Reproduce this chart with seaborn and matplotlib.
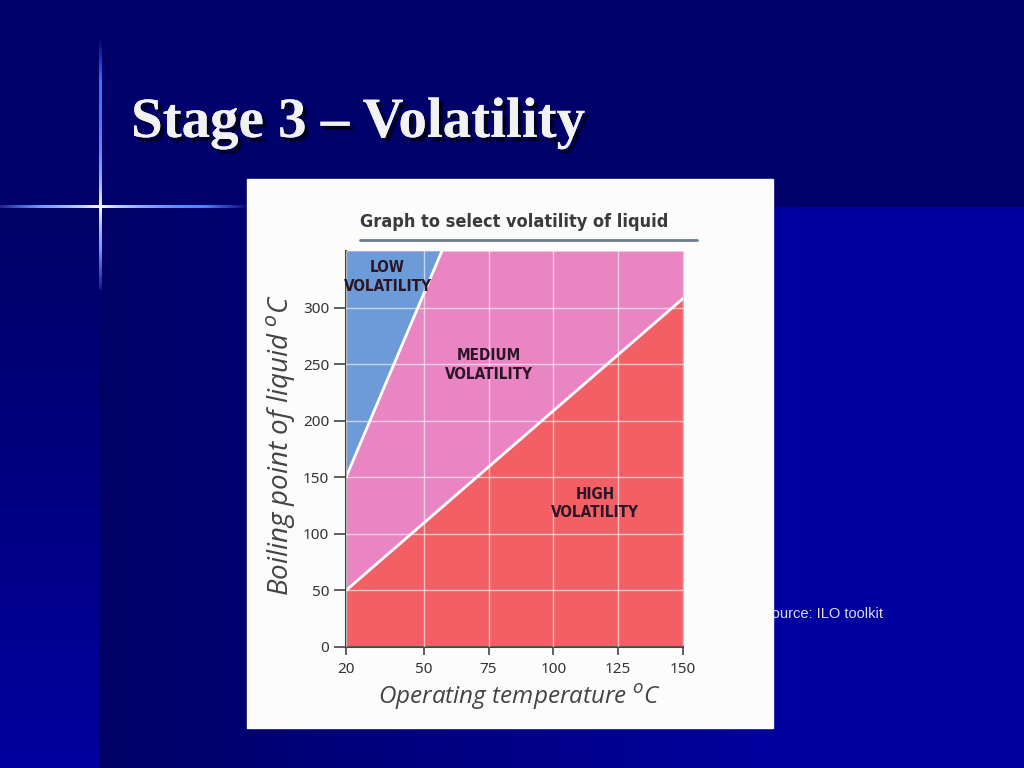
import numpy as np
import matplotlib
matplotlib.use('Agg')
import matplotlib.pyplot as plt
import matplotlib.patheffects as pe
from matplotlib.colors import LinearSegmentedColormap, to_rgb
from matplotlib.patches import Rectangle
import seaborn as sns

# chart data
x_ticks = [20, 50, 75, 100, 125, 150]
y_ticks = [0, 50, 100, 150, 200, 250, 300]
x_range = [20, 150]
y_max = 350
low_med_temp = [20, 57]      # boundary low / medium volatility
low_med_bp = [150, 350]
med_high_temp = [20, 150]    # boundary medium / high volatility
med_high_bp = [50, 308]
zone_names = ['LOW\nVOLATILITY', 'MEDIUM\nVOLATILITY', 'HIGH\nVOLATILITY']
zone_label_temp = [36, 75, 116]
zone_label_bp = [327, 249, 127]
zone_colors = ['#6d9bd8', '#e985c3', '#f26065']

sns.set_theme(style='white')

fig = plt.figure(figsize=(10.24, 7.68), dpi=100)

# slide background, pixel coordinates
bg = fig.add_axes([0, 0, 1, 1])
cmap = LinearSegmentedColormap.from_list('slide', ['#000066', '#00009e'])
bg.add_patch(Rectangle((0, 0), 1024, 207, color='#00006a', zorder=0))
hgrad = np.clip((np.arange(100, 1024) - 100) / 680, 0, 1)[None, :]
bg.imshow(hgrad, cmap=cmap, vmin=0, vmax=1, extent=(100, 1024, 768, 207), aspect='auto', zorder=0)
vgrad = np.linspace(0, 1, 200)[:, None]
bg.imshow(vgrad, cmap=cmap, vmin=0, vmax=1, extent=(0, 100, 768, 207), aspect='auto', zorder=0)

# light flare, drawn as thin images so there are no seams
def flare_strip(length, centre, spread):
    pos = np.arange(length) + 0.5
    k = np.exp(-np.abs(pos - centre) / spread)
    t = pos / length
    edge = np.minimum(1, np.minimum(t, 1 - t) * 6)
    navy = np.array(to_rgb('#000070'))
    blue = np.array(to_rgb('#3070ff'))
    c = navy[None, :] * (1 - edge[:, None]) + blue[None, :] * edge[:, None]
    c = c * (1 - k[:, None]) + k[:, None]
    return c

h = flare_strip(245, 100, 50)
bg.imshow(h[None, :, :], extent=(0, 245, 208.5, 205.5), aspect='auto', zorder=1,
          interpolation='bilinear')
v = flare_strip(250, 167, 35)
bg.imshow(v[:, None, :], extent=(98.5, 101.5, 290, 40), aspect='auto', zorder=1,
          interpolation='bilinear')

bg.text(762, 614, 'Source: ILO toolkit', fontsize=10.5, family='Liberation Sans',
        color='#dcdcf5', va='center', zorder=1)
bg.add_patch(Rectangle((247, 179), 526, 549, color='#fcfcfc', zorder=2))

bg.text(131, 137, 'Stage 3 – Volatility', fontsize=41, weight='bold', family='Liberation Serif',
        color='#f2f2f2', va='baseline', zorder=3,
        path_effects=[pe.withSimplePatchShadow(offset=(3, -3), shadow_rgbFace='#000020', alpha=0.9),
                      pe.Normal()])
bg.text(514, 222, 'Graph to select volatility of liquid', ha='center', va='center', fontsize=13,
        weight='bold', family='DejaVu Sans', stretch='condensed', color='#3a3a3a', zorder=3)
bg.plot([360, 697], [240, 240], color='#6b7c93', lw=2, zorder=3)
bg.set_xlim(0, 1024)
bg.set_ylim(768, 0)
bg.axis('off')

# the chart
ax = fig.add_axes([346 / 1024, 1 - 647 / 768, 337 / 1024, 396 / 768])
ax.fill_between(med_high_temp, med_high_bp, y_max, color=zone_colors[1], lw=0)
ax.fill_between(med_high_temp, 0, med_high_bp, color=zone_colors[2], lw=0)
ax.fill_between(low_med_temp, low_med_bp, y_max, color=zone_colors[0], lw=0)
sns.lineplot(x=low_med_temp, y=low_med_bp, color='white', lw=2, ax=ax)
sns.lineplot(x=med_high_temp, y=med_high_bp, color='white', lw=2, ax=ax)

for name, t, bp in zip(zone_names, zone_label_temp, zone_label_bp):
    ax.text(t, bp, name, ha='center', va='center', fontsize=11, weight='bold',
            family='DejaVu Sans', stretch='condensed', color='#2b1626', linespacing=1.3)

ax.set_xlim(*x_range)
ax.set_ylim(0, y_max)
ax.set_xticks(x_ticks)
ax.set_yticks(y_ticks)
ax.grid(True, color='white', lw=1, alpha=0.6)
ax.set_axisbelow(False)
for s in ['top', 'right']:
    ax.spines[s].set_visible(False)
for s in ['left', 'bottom']:
    ax.spines[s].set_color('#444444')
    ax.spines[s].set_linewidth(1.5)
ax.tick_params(axis='y', left=True, direction='out', length=9, width=1.2, color='#444444',
               pad=3, labelsize=11, labelcolor='#333333')
ax.tick_params(axis='x', bottom=True, direction='out', length=6, width=1.2, color='#444444',
               pad=5, labelsize=11, labelcolor='#333333')
for lab in ax.get_xticklabels() + ax.get_yticklabels():
    lab.set_family('Noto Sans')

ax.set_xlabel('Operating temperature $^o$C', fontsize=17.5, style='italic', family='Open Sans',
              color='#444444', va='center')
ax.xaxis.set_label_coords(0.516, -0.126)
ax.set_ylabel('Boiling point of liquid $^o$C', fontsize=20, style='italic', family='Open Sans',
              color='#444444', va='center')
ax.yaxis.set_label_coords(-0.193, 0.51)

fig.savefig('out.png', dpi=100)
